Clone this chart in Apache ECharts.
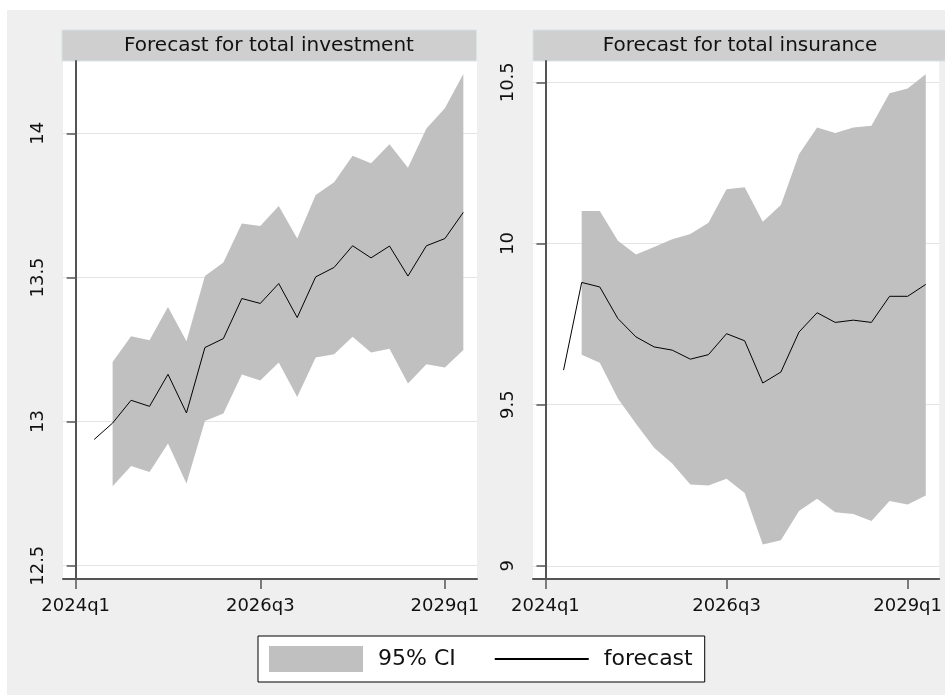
<!DOCTYPE html>
<html>
<head>
<meta charset="utf-8">
<script src="https://cdn.jsdelivr.net/npm/echarts@6/dist/echarts.min.js"></script>
<style>html,body{margin:0;padding:0;background:#fff}#c{width:945px;height:695px}</style>
</head>
<body>
<div id="c"></div>
<script>
// ---- data ----
const quarters = ['2024q1','2024q2','2024q3','2024q4','2025q1','2025q2','2025q3','2025q4',
  '2026q1','2026q2','2026q3','2026q4','2027q1','2027q2','2027q3','2027q4',
  '2028q1','2028q2','2028q3','2028q4','2029q1','2029q2'];
const xTickValues = [0, 10, 20];
const forecastStart = 1;   // 2024q2
const bandStart = 2;       // 2024q3
const panelTitles = ['Forecast for total investment', 'Forecast for total insurance'];

const invForecast = [12.938, 12.995, 13.074, 13.053, 13.164, 13.030, 13.257, 13.288, 13.427, 13.410,
  13.479, 13.361, 13.502, 13.535, 13.610, 13.568, 13.609, 13.505, 13.610, 13.635, 13.726];
const invUpper = [13.207, 13.296, 13.282, 13.398, 13.279, 13.505, 13.552, 13.687, 13.679, 13.748,
  13.635, 13.786, 13.830, 13.922, 13.896, 13.962, 13.881, 14.017, 14.087, 14.206];
const invLower = [12.776, 12.846, 12.825, 12.924, 12.785, 13.002, 13.028, 13.163, 13.143, 13.205,
  13.085, 13.222, 13.234, 13.294, 13.240, 13.253, 13.132, 13.199, 13.188, 13.248];
const invYTicks = [12.5, 13, 13.5, 14];

const insForecast = [9.607, 9.879, 9.865, 9.767, 9.710, 9.679, 9.669, 9.641, 9.655, 9.720,
  9.698, 9.567, 9.601, 9.725, 9.785, 9.755, 9.762, 9.755, 9.836, 9.836, 9.873];
const insUpper = [10.101, 10.101, 10.008, 9.966, 9.989, 10.013, 10.029, 10.064, 10.168, 10.174,
  10.067, 10.119, 10.277, 10.360, 10.343, 10.360, 10.365, 10.466, 10.481, 10.525];
const insLower = [9.655, 9.630, 9.519, 9.441, 9.366, 9.317, 9.252, 9.249, 9.270, 9.226,
  9.066, 9.079, 9.170, 9.208, 9.166, 9.161, 9.139, 9.201, 9.190, 9.218];
const insYTicks = [9, 9.5, 10, 10.5];

// ---- styling ----
const FONT = 'DejaVu Sans';
const AXIS_COLOR = '#555';
const BAND_COLOR = '#c0c0c0';

const pairs = (start, arr) => arr.map((v, k) => [start + k, v]);

function xAxis(idx) {
  return {
    type: 'value', gridIndex: idx, min: -0.688, max: 21.74,
    axisLine: { show: true, lineStyle: { color: AXIS_COLOR, width: 2 } },
    axisTick: { show: true, length: 10, customValues: xTickValues, lineStyle: { color: AXIS_COLOR, width: 1.5 } },
    axisLabel: { customValues: xTickValues, formatter: v => quarters[Math.round(v)], margin: 18,
      fontFamily: FONT, fontSize: 18, color: '#111' },
    splitLine: { show: false }
  };
}
function yAxis(idx, ticks, min, max) {
  return {
    type: 'value', gridIndex: idx, min: min, max: max,
    axisLine: { show: true, lineStyle: { color: AXIS_COLOR, width: 2 } },
    axisTick: { show: true, length: 9, customValues: ticks, lineStyle: { color: AXIS_COLOR, width: 1.5 } },
    axisLabel: { customValues: ticks, rotate: 90, margin: 16, formatter: v => String(v),
      fontFamily: FONT, fontSize: 18, color: '#111' },
    splitLine: { show: true, lineStyle: { color: '#e4e4e4', width: 1 } }
  };
}
function bandSeries(idx, upper, lower) {
  return {
    type: 'custom', name: '95% CI', xAxisIndex: idx, yAxisIndex: idx, z: 2,
    itemStyle: { color: BAND_COLOR },
    data: pairs(bandStart, upper),
    encode: { x: 0, y: 1 },
    renderItem: (params, api) => {
      if (params.dataIndex !== 0) return null;
      const pts = upper.map((v, k) => api.coord([bandStart + k, v]));
      for (let k = lower.length - 1; k >= 0; k--) pts.push(api.coord([bandStart + k, lower[k]]));
      return { type: 'polygon', shape: { points: pts }, style: { fill: BAND_COLOR } };
    }
  };
}
function lineSeries(idx, values) {
  return {
    type: 'line', name: 'forecast', xAxisIndex: idx, yAxisIndex: idx, z: 3,
    data: pairs(forecastStart, values), showSymbol: false, symbol: 'none',
    lineStyle: { color: '#000', width: 1 }, itemStyle: { color: '#000' }
  };
}
function strip(x, text) {
  return [
    { type: 'rect', shape: { x: x, y: 30, width: 414.5, height: 31 },
      style: { fill: '#cfcfcf', stroke: '#d8e4e8', lineWidth: 1 } },
    { type: 'text', x: x + 207, y: 46,
      style: { text: text, font: '20px "' + FONT + '"', fill: '#111', align: 'center', verticalAlign: 'middle' } }
  ];
}

const chart = echarts.init(document.getElementById('c'), null, { renderer: 'canvas' });
chart.setOption({
  animation: false,
  backgroundColor: '#efefef',
  grid: [
    { left: 63, top: 61, width: 414, height: 518, show: true, backgroundColor: '#fff', borderWidth: 0 },
    { left: 533, top: 61, width: 414, height: 518, show: true, backgroundColor: '#fff', borderWidth: 0 }
  ],
  xAxis: [xAxis(0), xAxis(1)],
  yAxis: [yAxis(0, invYTicks, 12.454, 14.251), yAxis(1, insYTicks, 8.959, 10.566)],
  legend: {
    left: 258, top: 636, orient: 'horizontal',
    backgroundColor: '#fff', borderColor: '#000', borderWidth: 1,
    padding: [10, 12, 10, 11], itemWidth: 94, itemHeight: 26, itemGap: 39,
    textStyle: { fontFamily: FONT, fontSize: 22, color: '#111', padding: [0, 0, 0, 10] },
    data: [
      { name: '95% CI', icon: 'rect', itemStyle: { color: BAND_COLOR } },
      { name: 'forecast', icon: 'path://M0,0 L94,0 L94,2 L0,2 Z', itemStyle: { color: '#000' } }
    ]
  },
  graphic: [
    { type: 'rect', shape: { x: 0, y: 0, width: 945, height: 10 }, style: { fill: '#fff' } },
    { type: 'rect', shape: { x: 0, y: 0, width: 7, height: 695 }, style: { fill: '#fff' } },
    { type: 'text', x: 472, y: 1, style: { text: 'p', font: '22px "' + FONT + '"', fill: '#1a476f', align: 'left', verticalAlign: 'bottom' } },
    ...strip(62, panelTitles[0]),
    ...strip(533, panelTitles[1])
  ],
  series: [
    bandSeries(0, invUpper, invLower),
    lineSeries(0, invForecast),
    bandSeries(1, insUpper, insLower),
    lineSeries(1, insForecast)
  ]
});
</script>
</body>
</html>
